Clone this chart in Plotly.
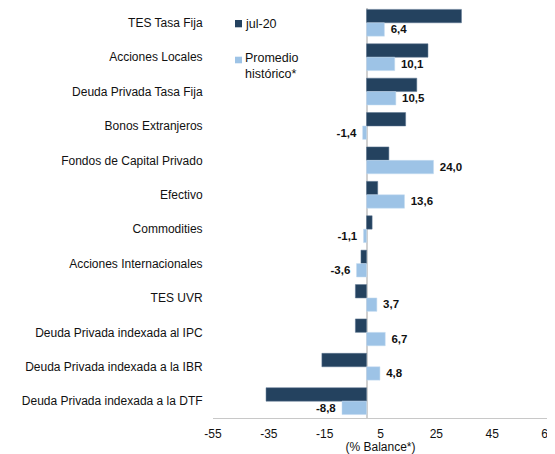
import plotly.graph_objects as go

categorias = ['TES Tasa Fija', 'Acciones Locales', 'Deuda Privada Tasa Fija',
              'Bonos Extranjeros', 'Fondos de Capital Privado', 'Efectivo',
              'Commodities', 'Acciones Internacionales', 'TES UVR',
              'Deuda Privada indexada al IPC', 'Deuda Privada indexada a la IBR',
              'Deuda Privada indexada a la DTF']
jul_20 = [34, 22, 18, 14, 8, 4, 2, -2, -4, -4, -16, -36]
promedio = [6.4, 10.1, 10.5, -1.4, 24.0, 13.6, -1.1, -3.6, 3.7, 6.7, 4.8, -8.8]
x_ticks = [-55, -35, -15, 5, 25, 45, 65]

oscuro = '#24425F'
claro = '#9DC3E6'

# etiquetas con coma decimal y guion normal, separadas un poco de la barra
nb = '\u00a0'
etiquetas = []
for v in promedio:
    s = '<b>' + f'{v:.1f}'.replace('.', ',') + '</b>'
    etiquetas.append(nb + s if v >= 0 else s + nb)

fig = go.Figure()
fig.add_trace(go.Bar(y=categorias, x=jul_20, orientation='h', name='jul-20',
                     marker=dict(color=oscuro, line=dict(color='#5a7490', width=0.5))))
fig.add_trace(go.Bar(y=categorias, x=promedio, orientation='h',
                     name='Promedio histórico*',
                     marker=dict(color=claro, line=dict(color='#c6dcf0', width=0.5)),
                     text=etiquetas, textposition='outside',
                     textfont=dict(size=12, color='#111111', family='Liberation Sans'),
                     cliponaxis=False))

# la página añade ~8px de margen, por eso el lienzo es algo menor que 555x454
fig.update_layout(
    width=547, height=446,
    barmode='group', bargap=0.22, bargroupgap=0,
    plot_bgcolor='white', paper_bgcolor='white',
    margin=dict(l=205, r=7, t=0, b=36, autoexpand=False),
    font=dict(family='Liberation Sans, Arial', size=12, color='#111111'),
    showlegend=False,
)

# leyenda dibujada a mano: área de trazado en pantalla x 213..548, y 8..418
def px(x):
    return (x - 213) / 335

def py(y):
    return (418 - y) / 410

fig.add_shape(type='rect', xref='paper', yref='paper', x0=px(235), x1=px(242),
              y0=py(27.3), y1=py(20), fillcolor=oscuro, line=dict(width=0))
fig.add_shape(type='rect', xref='paper', yref='paper', x0=px(235), x1=px(242),
              y0=py(63.3), y1=py(56.7), fillcolor=claro, line=dict(width=0))
fig.add_annotation(xref='paper', yref='paper', x=px(242.5), y=py(24),
                   text='jul-20', showarrow=False, xanchor='left', yanchor='middle',
                   font=dict(size=12.5))
fig.add_annotation(xref='paper', yref='paper', x=px(242.5), y=py(66.4),
                   text='Promedio<br>histórico*', showarrow=False, xanchor='left',
                   yanchor='middle', align='left', font=dict(size=12.5))

fig.update_xaxes(range=[-55, 65], tickvals=x_ticks,
                 ticktext=[str(v) for v in x_ticks], showgrid=False,
                 zeroline=True, zerolinecolor='#d0d0d0', zerolinewidth=1.5,
                 showline=True, linecolor='#c8c8c8', linewidth=1,
                 ticks='outside', ticklen=5, tickcolor='white',
                 automargin=False,
                 title=dict(text='(% Balance*)', standoff=1, font=dict(size=12)),
                 tickfont=dict(size=12))
fig.update_yaxes(range=[11.49, -0.43], showgrid=False, ticks='outside',
                 ticklen=7, tickcolor='white', tickfont=dict(size=12),
                 automargin=False)

fig.write_html("out.html")
